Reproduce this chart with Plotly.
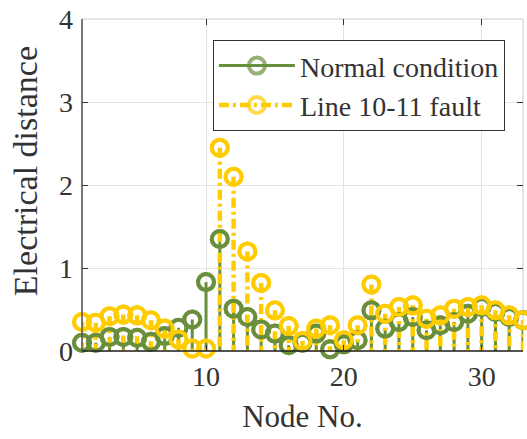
import plotly.graph_objects as go

nodes = list(range(1, 34))
normal = [0.10, 0.10, 0.17, 0.17, 0.16, 0.11, 0.18, 0.28, 0.38, 0.83,
          1.35, 0.51, 0.41, 0.26, 0.21, 0.07, 0.10, 0.21, 0.02, 0.08,
          0.13, 0.49, 0.27, 0.35, 0.41, 0.25, 0.31, 0.35, 0.45, 0.53,
          0.47, 0.41, 0.37]
fault = [0.35, 0.34, 0.42, 0.44, 0.43, 0.37, 0.27, 0.14, 0.03, 0.03,
         2.45, 2.10, 1.20, 0.82, 0.49, 0.30, 0.12, 0.27, 0.31, 0.13,
         0.31, 0.80, 0.45, 0.53, 0.55, 0.39, 0.43, 0.51, 0.53, 0.55,
         0.49, 0.43, 0.37]
names = ["Normal condition", "Line 10-11 fault"]
x_ticks = [10, 20, 30]
y_ticks = [0, 1, 2, 3, 4]
x_title = "Node No."
y_title = "Electrical distance"

GREEN = "#6a8f3c"
YELLOW = "#ffcc00"
FONT = "Liberation Serif"
MS = 16


def stem_xy(xs, ys):
    sx, sy, sz = [], [], []
    for a, b in zip(xs, ys):
        sx += [a, a, None]
        sy += [b, 0, None]
        sz += [MS, 0, 2 * MS]
    return sx, sy, sz


fig = go.Figure()
styles = [(GREEN, "solid", 3), (YELLOW, "10px,4px,3px,4px", 4.5)]
series = [normal, fault]

for (col, dash, lw), vals, nm in zip(styles, series, names):
    sx, sy, sz = stem_xy(nodes, vals)
    fig.add_trace(go.Scatter(
        x=sx, y=sy, mode="lines+markers", name=nm,
        line=dict(color=col, width=lw, dash=dash),
        marker=dict(symbol="circle-open", size=sz, color=col,
                    line=dict(width=4, color=col)),
        cliponaxis=False, hoverinfo="skip"))

for (col, dash, lw), vals in zip(styles, series):
    fig.add_trace(go.Scatter(
        x=nodes, y=vals, mode="markers", showlegend=False,
        marker=dict(symbol="circle-open", size=MS, color=col,
                    line=dict(width=4, color=col)),
        cliponaxis=False))

fig.update_layout(
    width=527, height=439,
    margin=dict(l=82, r=4, t=17, b=88),
    paper_bgcolor="white", plot_bgcolor="white",
    font=dict(family=FONT, color="#333333", size=28),
    showlegend=True,
    legend=dict(x=0.959, xanchor="right", y=0.937, yanchor="top",
                bgcolor="white", bordercolor="#333333", borderwidth=1,
                font=dict(size=28, family=FONT, color="#333333"),
                itemwidth=76, tracegroupgap=0),
    xaxis=dict(range=[1, 33], tickvals=x_ticks, ticks="inside",
               ticklen=6, tickcolor="#333333", showline=False,
               mirror="ticks", showgrid=True, gridcolor="#e3e3e3",
               zeroline=False, tickfont=dict(size=28),
               ticklabelstandoff=6,
               title=dict(text=x_title, font=dict(size=31), standoff=14)),
    yaxis=dict(range=[0, 4], tickvals=y_ticks, ticks="inside",
               ticklen=6, tickcolor="#333333", showline=False,
               mirror="ticks", showgrid=True, gridcolor="#e3e3e3",
               zeroline=False, tickfont=dict(size=28),
               ticklabelstandoff=8),
    annotations=[dict(text=y_title, textangle=-90, xref="paper", yref="paper",
                      x=-0.129, y=0.542, xanchor="center", yanchor="middle",
                      showarrow=False, font=dict(size=34, family=FONT,
                                                 color="#333333"))],
    shapes=[
        dict(type="rect", xref="x domain", yref="y domain", x0=0, x1=1,
             y0=0, y1=1, line=dict(color="#cccccc", width=1), layer="below"),
        dict(type="line", xref="x domain", yref="y domain", x0=0, x1=0,
             y0=0, y1=1, line=dict(color="#555555", width=1.5), layer="above"),
        dict(type="line", xref="x domain", yref="y domain", x0=0, x1=1,
             y0=0, y1=0, line=dict(color="#222222", width=1.5), layer="above"),
    ],
)

fig.write_html("out.html")
